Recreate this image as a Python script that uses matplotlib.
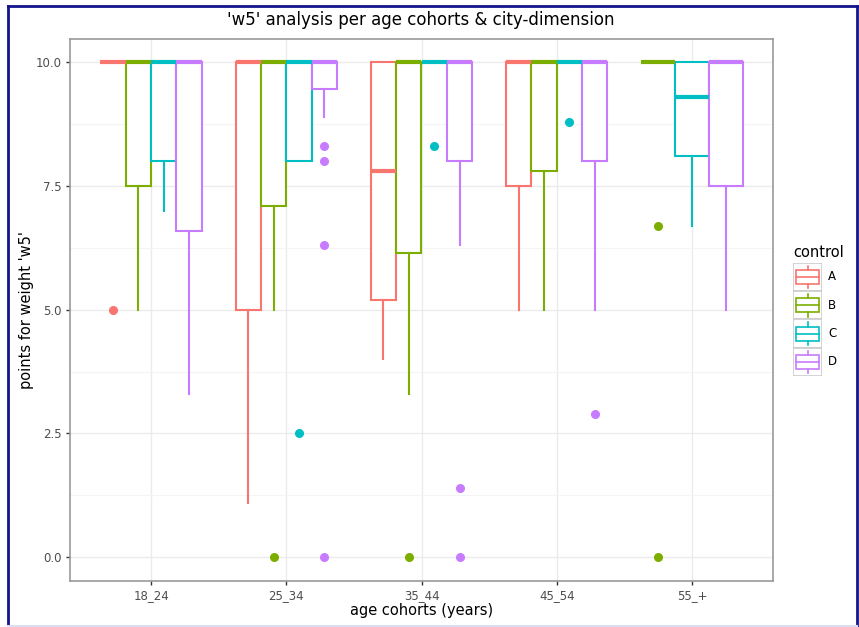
import matplotlib
matplotlib.use("Agg")
import matplotlib.pyplot as plt
from matplotlib.patches import Rectangle
from matplotlib.lines import Line2D

# data (q3 and upper whisker are 10 everywhere)
cohorts = ["18_24", "25_34", "35_44", "45_54", "55_+"]
groups = ["A", "B", "C", "D"]
colors = ["#F8766D", "#7CAE00", "#00BFC4", "#C77CFF"]

A_med = [10, 10, 7.8, 10, None]
A_q1 = [10, 5.0, 5.2, 7.5, None]
A_lo = [10, 1.1, 4.0, 5.0, None]
A_out = [[5.0], [], [], [], None]

B_med = [10, 10, 10, 10, 10]
B_q1 = [7.5, 7.1, 6.15, 7.8, 10]
B_lo = [5.0, 5.0, 3.3, 5.0, 10]
B_out = [[], [0], [0], [], [6.7, 0]]

C_med = [10, 10, 10, 10, 9.3]
C_q1 = [8.0, 8.0, 10, 10, 8.1]
C_lo = [7.0, 8.0, 10, 10, 6.7]
C_out = [[], [2.5], [8.3], [8.8], []]

D_med = [10, 10, 10, 10, 10]
D_q1 = [6.6, 9.45, 8.0, 8.0, 7.5]
D_lo = [3.3, 8.9, 6.3, 5.0, 5.0]
D_out = [[], [8.3, 8.0, 6.3, 0], [1.4, 0], [2.9], []]

q3 = 10
whishi = 10

series = {
    "A": (A_med, A_q1, A_lo, A_out),
    "B": (B_med, B_q1, B_lo, B_out),
    "C": (C_med, C_q1, C_lo, C_out),
    "D": (D_med, D_q1, D_lo, D_out),
}

W, H = 859, 627
fig = plt.figure(figsize=(W / 100, H / 100), dpi=100)
fig.patch.set_facecolor("white")

# panel placed like the reference
ax = fig.add_axes([70 / W, 1 - 581 / H, (773 - 70) / W, (581 - 39) / H])

dodge = 0.75
for i, cohort in enumerate(cohorts):
    present = [g for g in groups if series[g][0][i] is not None]
    n = len(present)
    bw = dodge / n
    for k, g in enumerate(present):
        med, q1, lo, out = series[g]
        col = colors[groups.index(g)]
        x = i + 1 - dodge / 2 + bw * (k + 0.5)
        stats = [{"med": med[i], "q1": q1[i], "q3": q3,
                  "whislo": lo[i], "whishi": whishi, "fliers": out[i]}]
        ax.bxp(stats, positions=[x], widths=bw * 0.999, showcaps=False,
               patch_artist=True, manage_ticks=False,
               boxprops=dict(facecolor="white", edgecolor=col, linewidth=1.5),
               whiskerprops=dict(color=col, linewidth=1.5),
               medianprops=dict(color=col, linewidth=3, solid_capstyle="butt"),
               flierprops=dict(marker="o", markerfacecolor=col,
                               markeredgecolor=col, markersize=5.5))

ax.set_xlim(0.4, 5.6)
ax.set_ylim(-0.48, 10.47)
ax.set_xticks(range(1, len(cohorts) + 1))
ax.set_xticklabels(cohorts)
ax.set_yticks([0, 2.5, 5, 7.5, 10])
ax.set_yticklabels(["0.0", "2.5", "5.0", "7.5", "10.0"])
ax.set_yticks([1.25, 3.75, 6.25, 8.75], minor=True)
ax.grid(True, which="major", color="#EBEBEB", linewidth=1.0, zorder=0)
ax.grid(True, which="minor", axis="y", color="#F4F4F4", linewidth=0.8, zorder=0)
ax.set_axisbelow(True)
ax.tick_params(axis="both", which="major", length=3, width=1, color="#333333",
               labelcolor="#4D4D4D", labelsize=8.5, pad=3)
ax.tick_params(axis="y", which="minor", length=0)
for s in ax.spines.values():
    s.set_color("#999999")
    s.set_linewidth(1.2)

ax.set_xlabel("age cohorts (years)", fontsize=10.5, color="black")
ax.xaxis.set_label_coords(0.5, -(611 - 581) / (581 - 39))
ax.set_ylabel("points for weight 'w5'", fontsize=10.5, color="black")
ax.yaxis.set_label_coords(-(70 - 26) / (773 - 70), 0.5)
ax.xaxis.label.set_va("center")
ax.yaxis.label.set_va("center")
fig.text(421 / W, 1 - 20 / H, "'w5' analysis per age cohorts & city-dimension",
         ha="center", va="center", fontsize=12)

# legend drawn by hand, ggplot style
lax = fig.add_axes([793 / W, 1 - 376 / H, 29 / W, (376 - 263) / H])
lax.set_xlim(0, 1)
lax.set_ylim(0, len(groups))
lax.axis("off")
for k, g in enumerate(groups):
    col = colors[k]
    y0 = len(groups) - 1 - k
    lax.add_patch(Rectangle((0, y0), 1, 1, facecolor="white",
                            edgecolor="#CCCCCC", linewidth=1.2))
    lax.add_line(Line2D([0.5, 0.5], [y0 + 0.1, y0 + 0.25], color=col, lw=1.2))
    lax.add_line(Line2D([0.5, 0.5], [y0 + 0.75, y0 + 0.9], color=col, lw=1.2))
    lax.add_patch(Rectangle((0.12, y0 + 0.25), 0.76, 0.5, facecolor="white",
                            edgecolor=col, linewidth=1.2))
    lax.add_line(Line2D([0.12, 0.88], [y0 + 0.5, y0 + 0.5], color=col, lw=1.2))
    fig.text(828 / W, 1 - (263 + 14 + 28.25 * k) / H, g, ha="left",
             va="center", fontsize=8.5, color="black")
fig.text(793 / W, 1 - 253 / H, "control", ha="left", va="center", fontsize=10.5)

# image frame of the screenshot
fig.add_artist(Line2D([8 / W, 8 / W], [0, 1 - 6 / H], color="#14148C", lw=2,
                      transform=fig.transFigure))
fig.add_artist(Line2D([8 / W, 1], [1 - 6 / H, 1 - 6 / H], color="#14148C", lw=2,
                      transform=fig.transFigure))
fig.add_artist(Line2D([857 / W, 857 / W], [0, 1 - 6 / H], color="#14148C", lw=2,
                      transform=fig.transFigure))
fig.add_artist(Line2D([8 / W, 857 / W], [1 / H, 1 / H], color="#DCDCF2", lw=1.5,
                      transform=fig.transFigure))

fig.savefig("out.png", dpi=100)
